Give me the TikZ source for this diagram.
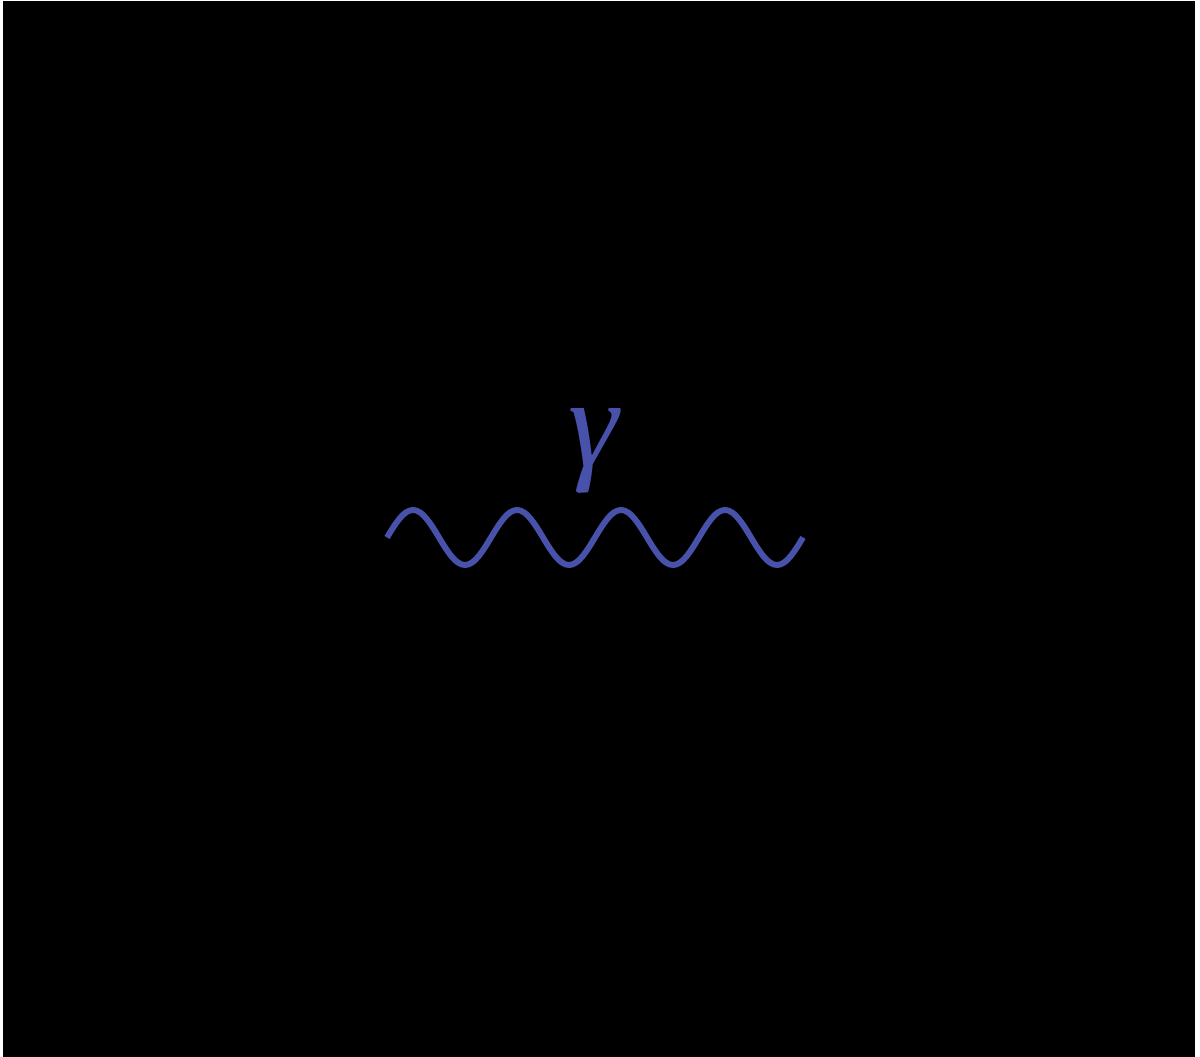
\documentclass[tikz,border=0pt]{standalone}
\usepackage{tikz}
\usepackage{xcolor}
\usepackage{fontspec}
\setmainfont{Liberation Serif}
\usetikzlibrary{positioning}

\definecolor{photonblue}{RGB}{72,82,170}

\begin{document}
\begin{tikzpicture}[
    x=0.02cm, y=0.02cm,
    photon/.style={draw=photonblue, line width=0.12cm},
    label/.style={inner sep=0pt, text=photonblue, font=\fontsize{72}{72}\selectfont\itshape},
]
\fill[white] (0,0) rectangle (1200,1057);
\fill[black] (3,0) rectangle (1195,1056);
\useasboundingbox (0,0) rectangle (1200,1057);

\coordinate (vin) at (387,519.5);
\coordinate (vout) at (803,519.5);
\draw[photon] (vin) \foreach \k in {1,...,4} {
    sin ++(26,27.5) cos ++(26,-27.5) sin ++(26,-27.5) cos ++(26,27.5)
  };

\node[label] (gamma) at (593,606) {γ};
\end{tikzpicture}
\end{document}
